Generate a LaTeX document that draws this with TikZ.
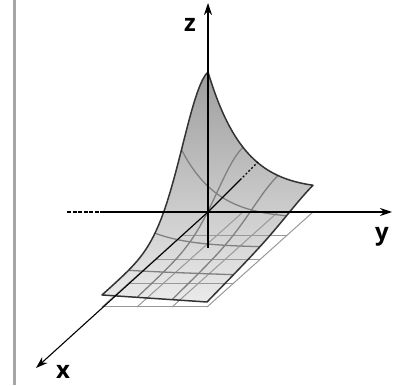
\documentclass[tikz,border=0pt]{standalone}
\usepackage{fontspec}
\setmainfont{Open Sans}
\usetikzlibrary{arrows.meta}
\pgfmathdeclarefunction{sz}{2}{%
  \begingroup
  \pgfmathparse{12+7*#2-14*#1*#2+128*exp(-2.8*#2-#1*#1/0.1142)}%
  \pgfmathsmuggle\pgfmathresult
  \endgroup}
\newcommand\surfpath{%
  plot[variable=\t,domain=0:1,samples=40] ({208+105*\t},{173+sz(0,\t)})
  -- plot[variable=\t,domain=0:1,samples=30] ({313-106*\t},{173-95*\t+sz(\t,1)})
  -- plot[variable=\t,domain=1:0,samples=30] ({102+105*\t},{78+sz(1,\t)})
  -- plot[variable=\t,domain=1:0,samples=40] ({208-106*\t},{173-95*\t+sz(\t,0)})
  -- cycle}

\begin{document}
\begin{tikzpicture}[x=1pt,y=1pt,
  axis/.style={line width=1.1pt,-{Stealth[length=12pt,width=8pt]}},
  basegrid/.style={draw=black!40,line width=1pt},
  surfgrid/.style={draw=black!50,line width=1.3pt},
  surfedge/.style={draw=black!80,line width=1.5pt,line join=round},
  lab/.style={font=\fontsize{24}{26}\selectfont\bfseries,inner sep=0pt}
]
\useasboundingbox (0,0) rectangle (393,385);
\draw[black!35,line width=3pt] (14,0) -- (14,385);

\coordinate (O) at (208,173);
\coordinate (ztop) at (208,382);
\coordinate (zbot) at (208,137);
\coordinate (yleft) at (67,173);
\coordinate (ydash) at (100,173);
\coordinate (yend) at (392,173);
\coordinate (xend) at (36,17);
\coordinate (xneg) at (240,205);
\coordinate (xnegend) at (258,223);

\shade[top color=black!38,bottom color=black!8] \surfpath;
\foreach \u in {0,0.25,0.5,0.75,1}
  \draw[basegrid] ({208-106*\u},{173-95*\u}) -- ++(105,0);
\foreach \v in {0,1,2,3}
  \draw[basegrid] ({208+35*\v},173) -- ++(-106,-95);
\foreach \u in {0.25,0.5,0.75}
  \draw[surfgrid] plot[variable=\t,domain=0:1,samples=30]
    ({208-106*\u+105*\t},{173-95*\u+sz(\u,\t)});
\foreach \v in {0.3333,0.6667}
  \draw[surfgrid] plot[variable=\t,domain=0:1,samples=30]
    ({208-106*\t+105*\v},{173-95*\t+sz(\t,\v)});
\draw[surfedge] \surfpath;

\draw[line width=1.1pt] (O) -- (xneg);
\draw[line width=1.1pt,dash pattern=on 2pt off 2pt] (xneg) -- (xnegend);
\draw[line width=1.1pt,dash pattern=on 4pt off 1.5pt] (yleft) -- (ydash);
\draw[axis] (ydash) -- (yend);
\draw[axis] (zbot) -- (ztop);
\draw[axis] (O) -- (xend);

\node[lab] (zlab) at (190,360) {z};
\node[lab] (ylab) at (382,148) {y};
\node[lab] (xlab) at (63,13) {x};
\end{tikzpicture}
\end{document}
